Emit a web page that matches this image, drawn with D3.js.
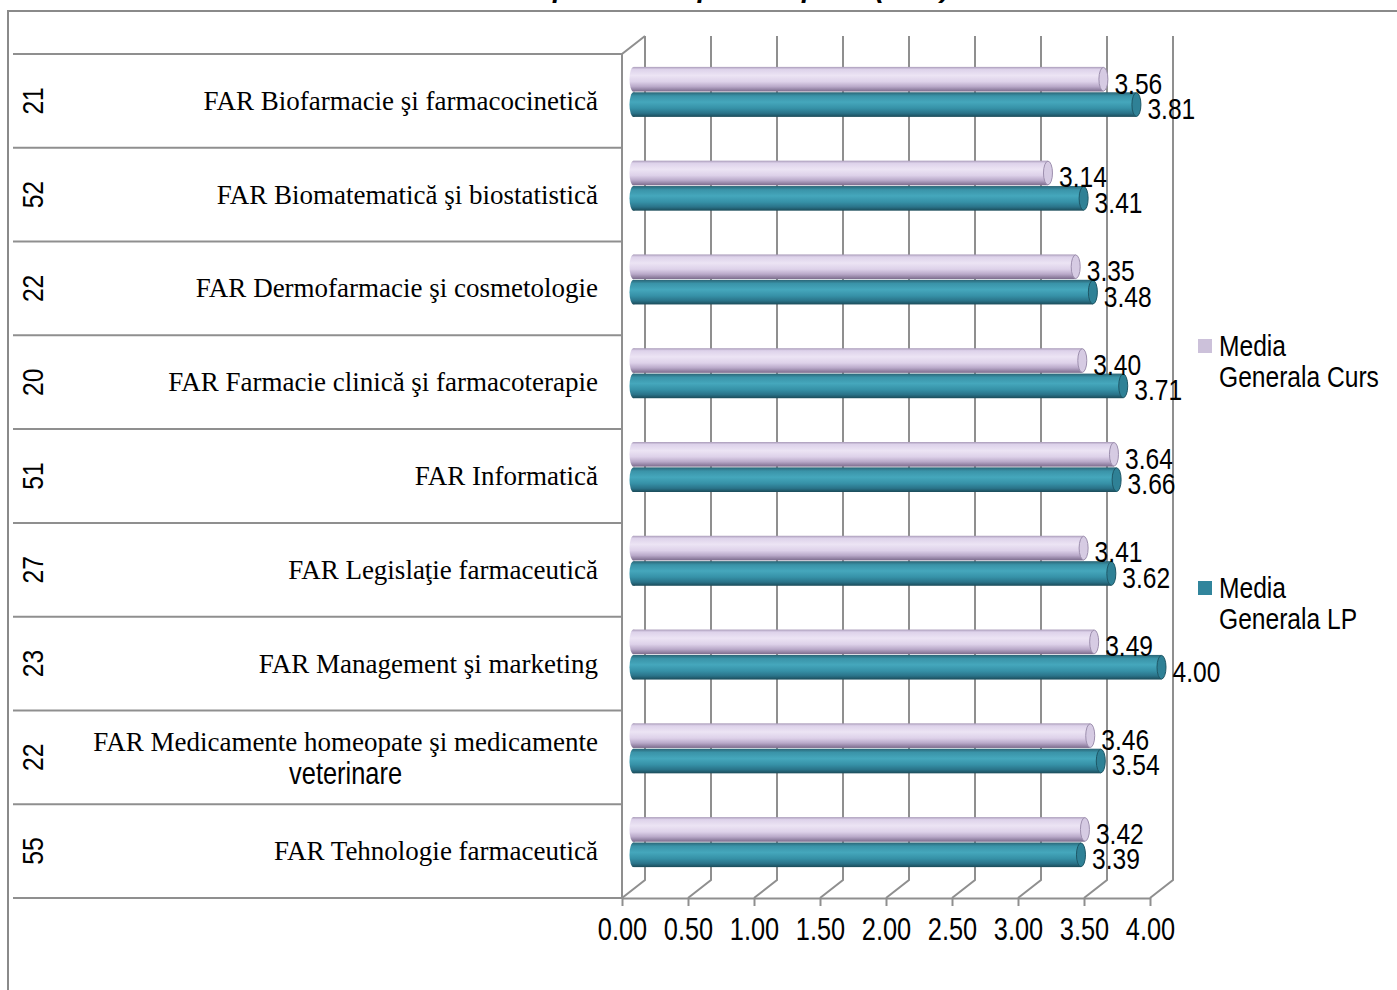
<!DOCTYPE html>
<html>
<head>
<meta charset="utf-8">
<script src="https://cdn.jsdelivr.net/npm/d3@7/dist/d3.min.js"></script>
<style>
  html, body { margin: 0; padding: 0; background: #fff; }
  svg { display: block; }
  .sans { font-family: "Liberation Sans", Arial, sans-serif; }
  .serif { font-family: "Liberation Serif", "Times New Roman", serif; }
</style>
</head>
<body>
<svg id="chart" width="1397" height="990"></svg>
<script>
// ---- data ----
const categories = [
  "FAR Biofarmacie şi farmacocinetică",
  "FAR Biomatematică şi biostatistică",
  "FAR Dermofarmacie şi cosmetologie",
  "FAR Farmacie clinică şi farmacoterapie",
  "FAR Informatică",
  "FAR Legislaţie farmaceutică",
  "FAR Management şi marketing",
  "FAR Medicamente homeopate şi medicamente veterinare",
  "FAR Tehnologie farmaceutică"
];
const counts = [21, 52, 22, 20, 51, 27, 23, 22, 55];
const mediaCurs = [3.56, 3.14, 3.35, 3.40, 3.64, 3.41, 3.49, 3.46, 3.42];
const mediaLP   = [3.81, 3.41, 3.48, 3.71, 3.66, 3.62, 4.00, 3.54, 3.39];
const seriesNames = ["Media Generala Curs", "Media Generala LP"];
const xTicks = [0, 0.5, 1, 1.5, 2, 2.5, 3, 3.5, 4];
const titleText = "Media aprecierilor pe discipline (FAR)";

// ---- layout ----
const svg = d3.select("#chart");
const DX = 23, DY = -18;           // 3D depth offset
const gridColor = "#8f8f8f";
const NARROW = 0.82;               // horizontal squeeze to mimic a narrow sans

const x = d3.scaleLinear().domain([0, 4]).range([622, 1150]);
const y = d3.scaleBand().domain(categories).range([54, 898]).padding(0);
const ySer = d3.scaleBand().domain(seriesNames).range([-25, 25]).paddingInner(0.03);

function narrowText(parent, px, py, str, size, anchor, rotate) {
  const g = parent.append("g")
    .attr("transform", `translate(${px},${py})${rotate ? ` rotate(${rotate})` : ""} scale(${NARROW},1)`);
  return g.append("text").attr("class", "sans").attr("font-size", size)
    .attr("text-anchor", anchor || "start").attr("dominant-baseline", "central")
    .attr("fill", "#000").text(str);
}

// gradients
const defs = svg.append("defs");
function grad(id, stops) {
  const g = defs.append("linearGradient").attr("id", id)
    .attr("x1", 0).attr("y1", 0).attr("x2", 0).attr("y2", 1);
  stops.forEach(([o, c]) => g.append("stop").attr("offset", o).attr("stop-color", c));
}
grad("gCurs", [[0, "#a99bb9"], [0.1, "#ddd2ea"], [0.35, "#ece4f4"], [0.6, "#ddd1e9"], [0.8, "#b9a9c9"], [1, "#7b6b8c"]]);
grad("gLP",   [[0, "#2a6475"], [0.15, "#3a93a8"], [0.4, "#45a7bc"], [0.65, "#3691a7"], [0.85, "#2a7389"], [1, "#1b4b59"]]);
const seriesFill = { "Media Generala Curs": "url(#gCurs)", "Media Generala LP": "url(#gLP)" };
const capFill = { "Media Generala Curs": "#d6cbe3", "Media Generala LP": "#2f8196" };
const capStroke = { "Media Generala Curs": "#9d8fae", "Media Generala LP": "#1e5766" };
const legendColor = { "Media Generala Curs": "#ccc1da", "Media Generala LP": "#31859c" };

// chart border
svg.append("path").attr("d", "M8,990 V11 H1397")
  .attr("fill", "none").attr("stroke", "#8a8a8a").attr("stroke-width", 2);

// partially visible title (cut off at top, as in the reference)
svg.append("text").attr("x", 700).attr("y", -3).attr("text-anchor", "middle")
  .attr("font-family", "'Liberation Sans', Arial, sans-serif")
  .attr("font-weight", "bold").attr("font-style", "italic").attr("font-size", 28)
  .text(titleText);

// gridlines (back wall + floor diagonal)
const grid = svg.append("g");
xTicks.forEach(t => {
  grid.append("path")
    .attr("d", `M${x(t) + DX},${54 + DY} V${898 + DY} L${x(t)},898`)
    .attr("fill", "none").attr("stroke", gridColor).attr("stroke-width", 2);
});
// left wall front edge + top diagonal
svg.append("path").attr("d", `M${x(0)},898 V54 L${x(0) + DX},${54 + DY}`)
  .attr("fill", "none").attr("stroke", gridColor).attr("stroke-width", 2);

// row separators
const bounds = categories.map(c => y(c)).concat([y.range()[1]]);
svg.append("g").selectAll("line").data(bounds).join("line")
  .attr("x1", 13).attr("x2", x(0)).attr("y1", d => d).attr("y2", d => d)
  .attr("stroke", gridColor).attr("stroke-width", 2);

// x axis
const axis = svg.append("g").attr("transform", "translate(0,898)")
  .call(d3.axisBottom(x).tickValues(xTicks).tickFormat(d3.format(".2f")).tickSize(8).tickSizeOuter(0).tickPadding(10));
axis.select(".domain").attr("stroke", gridColor).attr("stroke-width", 2);
axis.selectAll(".tick line").attr("stroke", gridColor).attr("stroke-width", 2);
axis.selectAll(".tick text").attr("class", "sans").attr("font-size", 31).attr("fill", "#000")
  .attr("dy", "0.78em").attr("transform", `scale(${NARROW},1)`);

// bars
const rows = categories.map((c, i) => ({ cat: c, vals: [
  { s: seriesNames[0], v: mediaCurs[i] },
  { s: seriesNames[1], v: mediaLP[i] }
]}));
const barG = svg.append("g");
const valG = svg.append("g");
rows.forEach(r => {
  const cy = y(r.cat) + y.bandwidth() / 2 + DY / 2;
  r.vals.forEach(d => {
    const top = cy + ySer(d.s), h = ySer.bandwidth();
    const x0 = x(0) + DX / 2, x1 = x(d.v) + DX / 2;
    const g = barG.append("g");
    g.append("ellipse").attr("cx", x0).attr("cy", top + h / 2).attr("rx", 4).attr("ry", h / 2)
      .attr("fill", seriesFill[d.s]);
    g.append("rect").attr("x", x0).attr("y", top).attr("width", x1 - x0).attr("height", h)
      .attr("fill", seriesFill[d.s]);
    g.append("ellipse").attr("cx", x1).attr("cy", top + h / 2).attr("rx", 4.5).attr("ry", h / 2 - 0.5)
      .attr("fill", capFill[d.s]).attr("stroke", capStroke[d.s]).attr("stroke-width", 1);
    narrowText(valG, x1 + 11, top + h / 2 + 4, d3.format(".2f")(d.v), 30, "start");
  });
});

// category labels
const labelG = svg.append("g");
categories.forEach(c => {
  const cy = y(c) + y.bandwidth() / 2;
  if (c.length > 40) {
    const cut = c.lastIndexOf(" ");
    const l1 = c.slice(0, cut), l2 = c.slice(cut + 1);
    const t1 = labelG.append("text").attr("class", "serif").attr("font-size", 27)
      .attr("x", 598).attr("y", cy - 15).attr("text-anchor", "end").attr("dominant-baseline", "central").text(l1);
    const w = t1.node().getComputedTextLength();
    narrowText(labelG, 598 - w / 2, cy + 16, l2, 31, "middle");
  } else {
    labelG.append("text").attr("class", "serif").attr("font-size", 27)
      .attr("x", 598).attr("y", cy).attr("text-anchor", "end").attr("dominant-baseline", "central").text(c);
  }
});

// counts (rotated)
const cntG = svg.append("g");
categories.forEach((c, i) => {
  narrowText(cntG, 33, y(c) + y.bandwidth() / 2, String(counts[i]), 30, "middle", -90);
});

// legend
const legendY = { "Media Generala Curs": 346, "Media Generala LP": 588 };
const legG = svg.append("g");
seriesNames.forEach(s => {
  const ly = legendY[s];
  legG.append("rect").attr("x", 1198).attr("y", ly - 7).attr("width", 14).attr("height", 14)
    .attr("fill", legendColor[s]);
  const words = s.split(" ");
  narrowText(legG, 1219, ly, words[0], 30, "start");
  narrowText(legG, 1219, ly + 31, words.slice(1).join(" "), 30, "start");
});
</script>
</body>
</html>
